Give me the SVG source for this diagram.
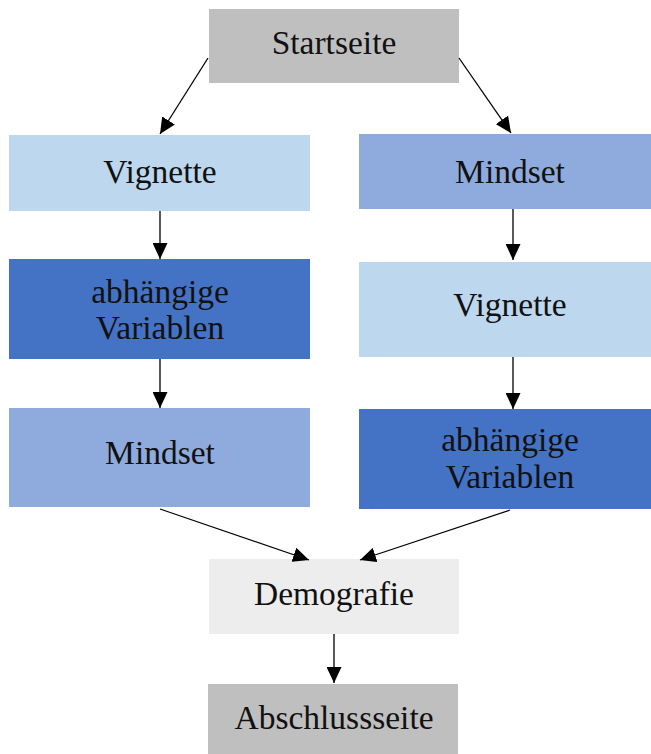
<svg xmlns="http://www.w3.org/2000/svg" width="651" height="754" viewBox="0 0 651 754">
<defs>
<marker id="ah" markerUnits="userSpaceOnUse" markerWidth="16" markerHeight="15" viewBox="0 0 10 10" refX="10" refY="5" orient="auto" preserveAspectRatio="none">
<path d="M0,0 L10,5 L0,10 z" fill="#000"/>
</marker>
<style>
.t{font-family:"Liberation Serif","Times New Roman",serif;font-size:33.5px;fill:#111;text-anchor:middle}
.c{stroke:#000;stroke-width:1.3;fill:none;marker-end:url(#ah)}
</style>
</defs>
<rect width="651" height="754" fill="#fff"/>
<g id="startseite"><rect x="209" y="9" width="250" height="74" fill="#BFBFBF"/><text class="t" x="334" y="54">Startseite</text></g>
<g id="vignette-l"><rect x="9" y="135" width="301" height="76" fill="#BDD7EE"/><text class="t" x="160" y="183">Vignette</text></g>
<g id="mindset-r"><rect x="359" y="134" width="302" height="75" fill="#8FAADC"/><text class="t" x="510" y="183">Mindset</text></g>
<g id="abh-l"><rect x="9" y="259" width="301" height="100" fill="#4472C4"/><text class="t" x="160" y="303">abhängige</text><text class="t" x="160" y="339">Variablen</text></g>
<g id="vignette-r"><rect x="359" y="262" width="302" height="95" fill="#BDD7EE"/><text class="t" x="510" y="316">Vignette</text></g>
<g id="mindset-l"><rect x="9" y="408" width="301" height="99" fill="#8FAADC"/><text class="t" x="160" y="464">Mindset</text></g>
<g id="abh-r"><rect x="359" y="409" width="302" height="100" fill="#4472C4"/><text class="t" x="510" y="451">abhängige</text><text class="t" x="510" y="488">Variablen</text></g>
<g id="demografie"><rect x="209" y="559" width="250" height="75" fill="#EDEDED"/><text class="t" x="334" y="605">Demografie</text></g>
<g id="abschluss"><rect x="208" y="684" width="250" height="75" fill="#BFBFBF"/><text class="t" x="334" y="729">Abschlussseite</text></g>
<g id="connectors">
<line class="c" x1="208" y1="58" x2="160" y2="134"/>
<line class="c" x1="459" y1="58" x2="511" y2="133"/>
<line class="c" x1="160" y1="211" x2="160" y2="259"/>
<line class="c" x1="513" y1="209" x2="513" y2="260"/>
<line class="c" x1="160" y1="359" x2="160" y2="408"/>
<line class="c" x1="513" y1="357" x2="513" y2="409"/>
<line class="c" x1="160" y1="509" x2="309" y2="560"/>
<line class="c" x1="510" y1="510" x2="360" y2="560"/>
<line class="c" x1="334" y1="634" x2="334" y2="683"/>
</g>
</svg>
